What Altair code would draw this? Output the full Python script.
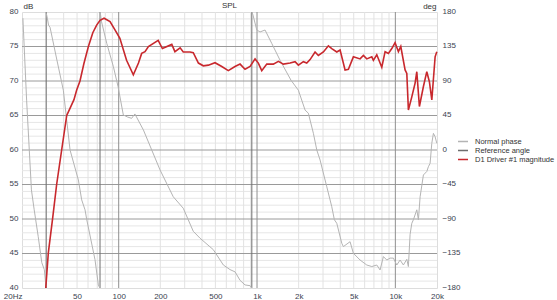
import altair as alt
import pandas as pd

# ---------------- data ----------------
mag_freq = [29.7, 31, 33.3, 35.6, 38.7, 42.1, 43.2, 47.5, 49.7, 52.5, 56, 60.4, 65, 69.3, 73.3,
            78.4, 86.6, 94, 102, 114, 127.6, 139, 146.6, 155, 164, 193, 207, 242, 255, 278,
            293, 328, 346, 377, 409, 445, 497, 556, 620, 693, 754, 819, 891, 968, 1022, 1082,
            1176, 1312, 1427, 1550, 1734, 1884, 1990, 2163, 2288, 2418, 2628, 2776, 3018, 3280,
            3470, 3772, 3986, 4330, 4576, 4972, 5558, 5874, 6214, 6756, 6936, 7340, 7978, 8430,
            8906, 9424, 9954, 10520, 10946, 11758, 12100, 12424, 13150, 13890, 14290, 14922,
            15954, 16876, 17620, 18348, 19380, 19936]
mag_db = [40, 45.1, 50.1, 55, 60, 65, 65.5, 67.3, 68.7, 70, 72.5, 75, 77, 78.1, 78.8,
          79.1, 78.6, 77.4, 76.2, 73.0, 70.9, 72.6, 74.0, 74.25, 75.0, 75.9, 74.7, 75.3, 74.25, 74.8,
          74.2, 74.2, 74.1, 72.6, 72.2, 72.3, 72.65, 72.1, 71.5, 72.1, 72.45, 71.7, 72.1, 73.2, 72.6, 71.5,
          72.45, 72.45, 72.85, 72.45, 72.6, 72.8, 72.3, 72.8, 72.6, 73.1, 74.2, 73.7, 74.2, 75.1,
          74.7, 74.2, 74.5, 71.6, 71.7, 73.5, 73.2, 73.7, 73.2, 73.5, 73.0, 73.8, 72.0, 74.25,
          74.0, 74.7, 75.55, 74.25, 75.0, 71.6, 71.1, 65.8, 67.7, 69.7, 71.35, 66.3,
          69.2, 71.35, 69.9, 67.25, 73.5, 74.25]

ph1_freq = [20.3, 21.6, 23.4, 24.5, 26.2, 27.8, 29.0, 29.8]
ph1_deg = [172, 65, -52, -78, -113, -147, -156, -178]

ph2_freq = [30.0, 30.5, 31.1, 31.9, 35.5, 39.8, 44.5, 51.1, 54, 57.1, 58.8, 67.4, 71.3, 73.0]
ph2_deg = [178, 172, 163, 160, 120, 78, 0, -39, -65, -78, -91, -143, -176, -180]

ph3_freq = [73.5, 75, 82, 91.6, 99, 108, 116, 124, 131, 151, 199, 248, 293, 346, 387, 483,
            571, 638, 694, 754, 819, 891, 915]
ph3_deg = [180, 168, 139, 108.6, 82.6, 45.7, 43, 41.3, 47, 26, -26, -61, -76, -106, -115, -130,
           -150, -156, -159, -170, -176, -177, -180]

ph4_freq = [919, 935, 996, 1052, 1143, 1278, 1468, 1760, 1990, 2226, 2350, 2555, 2704, 2856,
            3194, 3470, 3624, 3772, 4100, 4210, 4706, 4972, 5558, 6214, 6756, 7340, 7756, 8196,
            8670, 9160, 9676, 10240, 10820, 11430, 12100, 12420, 12780, 13150, 13500, 14290,
            14680, 15100, 15950, 16880, 17330, 17830, 18340, 18840, 19380, 19940]
ph4_deg = [180, 176, 156.5, 154, 156.5, 139, 117, 91, 78, 52, 48, 21.8, 0, -13,
           -48, -74, -91, -95.6, -121.7, -126, -119.6, -134.7, -143.5, -150, -152, -150, -156.5, -139,
           -143.5, -141, -141, -150, -143.5, -150, -142.6, -152, -110, -95.6, -91, -78,
           -91, -61, -32.6, -28, -21.8, -17.4, 8.7, 21.7, 17.4, 8.7]

wrap_freq = [29.9, 73.3, 917]

series_names = ["Normal phase", "Reference angle", "D1 Driver #1 magnitude"]
series_colors = ["#b4b4b4", "#6e6e6e", "#c8282d"]

chart_title = ["SPL"]

x_ticks = [20, 50, 100, 200, 500, 1000, 2000, 5000, 10000, 20000]
minor_x = [30, 40, 50, 60, 70, 80, 90, 200, 300, 400, 500, 600, 700, 800, 900,
           2000, 3000, 4000, 5000, 6000, 7000, 8000, 9000]
major_x = [100, 1000, 10000]
db_ticks = [40, 45, 50, 55, 60, 65, 70, 75, 80]
minor_y = [v for v in range(41, 80) if v % 5 != 0]
major_y = [45, 50, 55, 60, 65, 70, 75]
deg_ticks = [-180, -135, -90, -45, 0, 45, 90, 135, 180]

# ---------------- frames ----------------
mag_df = pd.DataFrame({"f": mag_freq, "v": mag_db, "s": series_names[2]})
ph_rows = []
for seg, (fr, dg) in enumerate([(ph1_freq, ph1_deg), (ph2_freq, ph2_deg),
                                (ph3_freq, ph3_deg), (ph4_freq, ph4_deg)]):
    for a, b in zip(fr, dg):
        ph_rows.append({"f": a, "v": b, "seg": seg, "s": series_names[0]})
ph_df = pd.DataFrame(ph_rows)
wrap_df = pd.DataFrame({"f": wrap_freq, "s": series_names[1]})

FONT = "Liberation Sans"
LBL = "#3a4250"
W, H = 415, 276

xs = alt.Scale(type="log", domain=[20, 20000], nice=False)
dbs = alt.Scale(domain=[40, 80], nice=False, zero=False)
phs = alt.Scale(domain=[-180, 180], nice=False, zero=False)

x_axis = alt.Axis(
    values=x_ticks, title=None, grid=False, ticks=False, domain=False,
    labelExpr="datum.value == 20 ? '20Hz' : (datum.value >= 1000 ? (datum.value/1000) + 'k' : datum.value)",
    labelAlign=alt.ExprRef(expr="datum.value < 25 ? 'right' : 'center'"),
    labelFontSize=8, labelFont=FONT, labelColor=LBL, labelPadding=4,
    labelOverlap=False, labelFlush=False, labelBound=False,
)
X = alt.X("f:Q", scale=xs, axis=x_axis)
color = alt.Color("s:N", scale=alt.Scale(domain=series_names, range=series_colors),
                  legend=alt.Legend(title=None, orient="none", legendX=435, legendY=125,
                                    symbolType="stroke", symbolSize=100, symbolStrokeWidth=1.5,
                                    labelFontSize=7.5, labelFont=FONT, labelColor="#333333",
                                    labelOffset=6, rowPadding=0, padding=0, clipHeight=9))

grid_minor_x = alt.Chart(pd.DataFrame({"f": minor_x})).mark_rule(
    color="#e2e2e2", strokeWidth=1).encode(x=X)
grid_major_x = alt.Chart(pd.DataFrame({"f": major_x})).mark_rule(
    color="#8f8f8f", strokeWidth=1).encode(x=X)
grid_minor_y = alt.Chart(pd.DataFrame({"v": minor_y})).mark_rule(
    color="#e6e6e6", strokeWidth=1).encode(y=alt.Y("v:Q", scale=dbs, axis=None))
grid_major_y = alt.Chart(pd.DataFrame({"v": major_y})).mark_rule(
    color="#9a9a9a", strokeWidth=1).encode(y=alt.Y("v:Q", scale=dbs, axis=None))

grids = alt.layer(grid_minor_y, grid_minor_x, grid_major_y, grid_major_x)

wraps = alt.Chart(wrap_df).mark_rule(strokeWidth=1).encode(x=X, color=color)

phase = alt.Chart(ph_df).mark_line(strokeWidth=1, interpolate="linear").encode(
    x=X,
    y=alt.Y("v:Q", scale=phs, axis=alt.Axis(
        orient="right", values=deg_ticks, grid=False, ticks=False, domain=False,
        title="deg", titleAngle=0, titleAlign="right", titleBaseline="bottom",
        titleX=-1, titleY=-2, titleFontSize=8, titleFont=FONT, titleFontWeight="normal",
        titleColor="#333333",
        labelFontSize=8, labelFont=FONT, labelColor=LBL, labelPadding=5, labelOffset=-1,
        labelAlign="left", labelOverlap=False, labelFlush=False)),
    detail="seg:N",
    color=color,
    order="f:Q",
)

mag = alt.Chart(mag_df).mark_line(strokeWidth=1.6).encode(
    x=X,
    y=alt.Y("v:Q", scale=dbs, axis=alt.Axis(
        orient="left", values=db_ticks, grid=False, ticks=False, domain=False,
        title="dB", titleAngle=0, titleAlign="left", titleBaseline="bottom",
        titleX=1, titleY=-2, titleFontSize=8, titleFont=FONT, titleFontWeight="normal",
        titleColor="#333333",
        labelFontSize=8, labelFont=FONT, labelColor=LBL, labelPadding=4, labelOffset=-1,
        labelOverlap=False, labelFlush=False)),
    color=color,
    order="f:Q",
)

title_txt = alt.Chart(pd.DataFrame({"t": chart_title})).mark_text(
    fontSize=8, font=FONT, color="#333333", align="center", baseline="bottom"
).encode(text="t:N", x=alt.value(W / 2), y=alt.value(-2))

chart = alt.layer(grids, wraps, phase, mag, title_txt).resolve_scale(
    y="independent"
).properties(
    width=W, height=H,
    autosize=alt.AutoSizeParams(type="none"),
    padding={"left": 22, "top": 12, "right": 120, "bottom": 12},
).configure_view(
    stroke="#a0a0a0", strokeWidth=1
).configure(background="white")

chart.save("out.html", embed_options={"renderer": "svg", "actions": False})
